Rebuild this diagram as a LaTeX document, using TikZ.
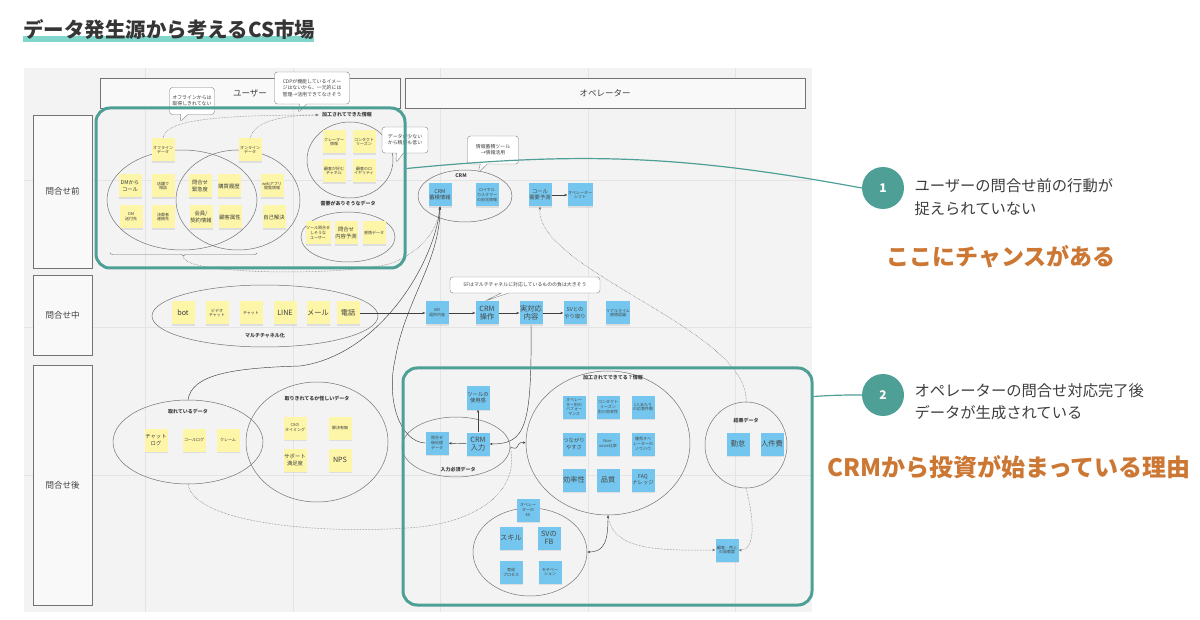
\documentclass[tikz,border=0pt]{standalone}
\usepackage{fontspec}
\setmainfont{Noto Sans CJK JP}
\usetikzlibrary{arrows.meta,calc,shapes.geometric,shapes.callouts,shadows,decorations.pathreplacing}
\definecolor{boardbg}{RGB}{243,243,243}
\definecolor{gridc}{RGB}{228,228,228}
\definecolor{tealc}{RGB}{78,160,150}
\definecolor{tealhl}{RGB}{128,214,203}
\definecolor{orangec}{RGB}{204,120,52}
\definecolor{inkc}{RGB}{62,62,62}
\definecolor{yel}{RGB}{253,245,168}
\definecolor{blu}{RGB}{116,198,238}

\tikzset{
  note/.style={minimum width=23pt,minimum height=23pt,inner sep=0.5pt,align=center,text=inkc,
    font=\fontsize{4}{4.8}\selectfont,drop shadow={opacity=0.18,shadow xshift=0pt,shadow yshift=-1.2pt}},
  ynote/.style={note,fill=yel},
  bnote/.style={note,fill=blu,text=black!72},
  midtxt/.style={font=\fontsize{5.3}{6.3}\selectfont},
  bigtxt/.style={font=\fontsize{7.2}{8.4}\selectfont},
  grp/.style={ellipse,draw=black!55,line width=0.5pt,inner sep=0pt},
  grplab/.style={font=\bfseries\fontsize{5}{6}\selectfont,text=inkc},
  hdr/.style={draw=black!55,fill=white!50!boardbg,line width=0.5pt,font=\fontsize{8.5}{10}\selectfont,text=inkc},
  bubble/.style={rectangle callout,draw=black!50,fill=white,rounded corners=3pt,align=center,inner sep=2pt,
    font=\fontsize{4.9}{6.2}\selectfont,text=inkc},
  flow/.style={-{Stealth[length=3pt,width=2.4pt]},black!75,line width=0.45pt},
  hint/.style={densely dotted,black!60,line width=0.5pt},
  tealbox/.style={draw=tealc,line width=3pt,rounded corners=14pt,inner sep=0pt},
  num/.style={circle,fill=tealc,minimum size=42pt,text=white,font=\bfseries\fontsize{12}{14}\selectfont}
}

\begin{document}
\begin{tikzpicture}[x=1pt,y=-1pt]
  \useasboundingbox (0,0) rectangle (1200,620);
  \fill[tealhl] (23,36) rectangle (314,42);
  \node[anchor=west,inner sep=0pt,font=\bfseries\fontsize{20.5}{24}\selectfont,text=inkc!85!black] (title) at (23,30) {データ発生源から考えるCS市場};

  \fill[boardbg] (24,68) rectangle (812,612);
  \foreach \gx in {145,293,440,588,735} \draw[gridc,line width=0.4pt] (\gx,68) -- (\gx,612);
  \foreach \gy in {180,327,475} \draw[gridc,line width=0.4pt] (24,\gy) -- (812,\gy);

  \node[hdr,minimum width=300pt,minimum height=30pt] (user) at (250,93) {ユーザー};
  \node[hdr,minimum width=400pt,minimum height=30pt] (oper) at (605,93) {オペレーター};
  \node[hdr,minimum width=59pt,minimum height=153pt] (rpre) at (62.5,191.5) {問合せ前};
  \node[hdr,minimum width=59pt,minimum height=80pt] (rmid) at (62.5,315) {問合せ中};
  \node[hdr,minimum width=59pt,minimum height=240pt] (rpost) at (62.5,485) {問合せ後};

  % groups
  \node[grp,minimum width=150pt,minimum height=100pt] (venL) at (182,200) {};
  \node[grp,minimum width=124pt,minimum height=100pt] (venR) at (238,200) {};
  \node[grp,minimum width=86pt,minimum height=76pt] (kakoU) at (350,160) {};
  \node[grp,minimum width=94pt,minimum height=50pt] (juyo) at (348,237) {};
  \node[grp,minimum width=94pt,minimum height=52pt] (crmel) at (465,196) {};
  \node[grp,minimum width=226pt,minimum height=62pt] (multi) at (265,316) {};
  \node[grp,minimum width=150pt,minimum height=84pt] (torete) at (188,442) {};
  \node[grp,minimum width=142pt,minimum height=120pt] (ayashii) at (317,442) {};
  \node[grp,minimum width=108pt,minimum height=60pt] (nyu) at (456,447) {};
  \node[grp,minimum width=164pt,minimum height=144pt] (kako) at (608,443) {};
  \node[grp,minimum width=82pt,minimum height=86pt] (kekka) at (746,445) {};
  \node[grp,minimum width=114pt,minimum height=88pt] (esel) at (530,552) {};

  \node[grplab] (kakoUlab) at (347,115) {加工されてできた情報};
  \node[grplab] (juyolab) at (348,204) {需要がありそうなデータ};
  \node[grplab] (crmlab) at (461,176) {CRM};
  \node[grplab] (multilab) at (265,336) {マルチチャネル化};
  \node[grplab] (torelab) at (188,412) {取れているデータ};
  \node[grplab] (ayalab) at (317,399) {取りきれてるか怪しいデータ};
  \node[grplab] (kakolab) at (613,378) {加工されてできてる？情報};
  \node[grplab] (nyulab) at (458,470) {入力必須データ};
  \node[grplab] (kekkalab) at (746,421) {結果データ};

  % sticky notes
  \foreach \nm/\x/\y/\t in {offd/163/150/{オフライン\\データ}, ond/250/150/{オンライン\\データ},
      tenpo/163/186/{店舗で\\相談}, webapp/272/186/{webアプリ\\閲覧情報}, dmsofu/131/217/{DM\\送付先},
      kessai/163/217/{決裁者\\連絡先}, claimer/334/142/{クレーマー\\情報}, contact/364/142/{コンタクト\\リーズン},
      chaneru/334/171/{顧客が好む\\チャネル}, loyal/364/171/{顧客のロ\\イヤリティ},
      toolq/318/233/{ツール問合せ\\しそうな\\ユーザー}, kanjo/374/233/{感情データ},
      video/217/313/{ビデオ\\チャット}, chat/251/313/{チャット}, calllog/194/440/{コールログ},
      claim/228/440/{クレーム}, cx/295/428/{CXの\\タイミング}, kaiketsu/340/428/{解決有無}}
    \node[ynote] (\nm) at (\x,\y) {\t};
  \foreach \nm/\x/\y/\t in {dmcall/130/186/{DMから\\コール}, kinkyu/200/186/{問合せ\\緊急度},
      kobai/229/186/{購買履歴}, keiyaku/201/217/{会員/\\契約情報}, zokusei/230/217/{顧客属性},
      jiko/274/217/{自己解決}, naiyo/346/233/{問合せ\\内容予測}, chatlog/156/440/{チャット\\ログ},
      support/295/460/{サポート\\満足度}}
    \node[ynote,midtxt] (\nm) at (\x,\y) {\t};
  \foreach \nm/\x/\y/\t in {bot/183/313/{bot}, line/285/313/{LINE}, mail/318/313/{メール},
      tel/348/313/{電話}, nps/340/460/{NPS}}
    \node[ynote,bigtxt] (\nm) at (\x,\y) {\t};

  \foreach \nm/\x/\y/\t in {loyalsign/487/195/{ロイヤル\\カスタマー\\の前兆情報}, shift/580/195/{オペレーター\\シフト},
      ivr/437/313/{IVR\\選択内容}, rt/618/313/{リアルタイム\\感情認識}, atoshori/437/443/{問合せ\\後処理\\データ},
      perf/574/407/{オペレー\\ター別の\\パフォー\\マンス}, crr/608/407/{コンタクト\\リーズン\\別の効率性},
      per1/643/407/{1人あたり\\の応答件数}, nonvoice/608/444/{Non-\\voice比率},
      knowhow/643/444/{優秀オペ\\レーターの\\ノウハウ}, es/528/510/{オペレー\\ターの\\ES},
      ikusei/511/572/{育成\\プロセス}, motiv/550/572/{モチベー\\ション}, koken/727/550/{顧客・売上\\の貢献度}}
    \node[bnote] (\nm) at (\x,\y) {\t};
  \foreach \nm/\x/\y/\t in {crmacc/440/195/{CRM\\蓄積情報}, callyo/540/195/{コール\\需要予測},
      sv/575/313/{SVとの\\やり取り}, tool/478/398/{ツールの\\使用感}, tsunagari/574/444/{つながり\\やすさ},
      faq/643/480/{FAQ\\ナレッジ}}
    \node[bnote,midtxt] (\nm) at (\x,\y) {\t};
  \foreach \nm/\x/\y/\t in {jitsu/531/313/{実対応\\内容}, crmop/487/313/{CRM\\操作}, crmin/478/444/{CRM\\入力},
      koritsu/574/480/{効率性}, hinshitsu/608/480/{品質}, kintai/738/444/{勤怠}, jinken/772/444/{人件費},
      skill/511/538/{スキル}, svfb/549/538/{SVの\\FB}}
    \node[bnote,bigtxt] (\nm) at (\x,\y) {\t};

  % connectors
  \draw[hint,-{Stealth[length=3pt,width=2.4pt]}] (offd.north) .. controls (166,122) and (200,115) .. (kakoUlab.west);
  \draw[hint] (ond.north) .. controls (253,124) and (275,115) .. (kakoUlab.west);
  \draw[black!55,decorate,decoration={brace,mirror,amplitude=3pt}] (110,253) -- (257,253);
  \coordinate (bracetip) at (183.5,257);
  \draw[hint,-{Stealth[length=3pt,width=2.4pt]}] (bracetip) .. controls (185,276) and (360,276) .. (395,262)
    .. controls (420,250) and (436,235) .. (crmacc.south);
  \draw[flow] (torete.north) .. controls (192,375) and (230,368) .. (300,366)
    .. controls (380,355) and (435,262) .. (crmacc.south);
  \draw[flow] (atoshori.west) .. controls (400,442) and (386,400) .. (395,360)
    .. controls (405,300) and (440,262) .. (crmacc.south);
  \draw[flow] (callyo) -- (shift);
  \draw[hint,-{Stealth[length=3pt,width=2.4pt]}] (kekka.north) .. controls (750,330) and (535,270) .. (callyo.south);

  \draw[flow] (tel.east) -- (ivr.west);
  \draw[flow] (ivr) -- (crmop);
  \draw[flow] (crmop) -- (jitsu);
  \draw[flow] (jitsu) -- (sv);
  \draw[flow] (jitsu.south) .. controls (532,428) and (525,444) .. (crmin.east);
  \draw[flow] (crmin) -- (atoshori);
  \draw[flow] (crmin) -- (tool);
  \draw[flow] (nyu.east) .. controls (522,452) and (514,441) .. (kako.west);
  \draw[hint] (torete.south) .. controls (195,525) and (330,535) .. (420,527)
    .. controls (480,520) and (520,490) .. (nyu.east);
  \draw[flow,{Stealth[length=3pt,width=2.4pt]}-{Stealth[length=3pt,width=2.4pt]}] (kako.south)
    .. controls (608,540) and (605,552) .. (esel.east);
  \draw[hint,-{Stealth[length=3pt,width=2.4pt]}] (kako.south) .. controls (612,548) and (650,551) .. (koken.west);
  \draw[hint,-{Stealth[length=3pt,width=2.4pt]}] (kekka.south) .. controls (757,530) and (752,551) .. (koken.east);

  % comments
  \node[bubble,minimum width=45pt,minimum height=27pt,callout absolute pointer={(180,122)}] (cb1) at (192,101) {オフラインからは\\取得しきれてない};
  \node[bubble,minimum width=75pt,minimum height=32pt,callout absolute pointer={(298,113)}] (cb2) at (312,88) {CDPが機能しているイメー\\ジはないから、一元的には\\管理→活用できてなさそう};
  \node[bubble,minimum width=46pt,minimum height=26pt,callout absolute pointer={(396,163)}] (cb3) at (405,140) {データが少ない\\から精度も低い};
  \node[bubble,minimum width=51pt,minimum height=28pt,callout absolute pointer={(478,173)}] (cb4) at (493,150) {情報蓄積ツール\\→情報活用};
  \node[bubble,minimum width=150pt,minimum height=16pt,callout absolute pointer={(485,301)}] (cb5) at (525,285) {SFはマルチチャネルに対応しているものの負は大きそう};

  \node[tealbox,minimum width=309pt,minimum height=160pt] (prebox) at (250.5,188) {};
  \node[tealbox,minimum width=409pt,minimum height=237pt] (postbox) at (607.5,486.5) {};

  \node[num] (c1) at (883,188) {1};
  \node[num] (c2) at (883,395) {2};
  \draw[tealc,line width=1.2pt] ($(prebox.north east)+(0,62)$) to[bend left=8] (c1.west);
  \draw[tealc,line width=1.2pt] ($(postbox.north east)+(0,30)$) to[bend left=2] (c2.west);
  \node[anchor=west,align=left,font=\fontsize{15.3}{23.5}\selectfont,text=inkc] (t1) at (911,197) {ユーザーの問合せ前の行動が\\捉えられていない};
  \node[font=\bfseries\fontsize{23}{28}\selectfont,text=orangec] (o1) at (1001,257) {ここにチャンスがある};
  \node[anchor=west,align=left,font=\fontsize{15.3}{22}\selectfont,text=inkc] (t2) at (911,402) {オペレーターの問合せ対応完了後\\データが生成されている};
  \node[font=\bfseries\fontsize{24}{28}\selectfont,text=orangec] (o2) at (1009,467) {CRMから投資が始まっている理由};
\end{tikzpicture}
\end{document}
